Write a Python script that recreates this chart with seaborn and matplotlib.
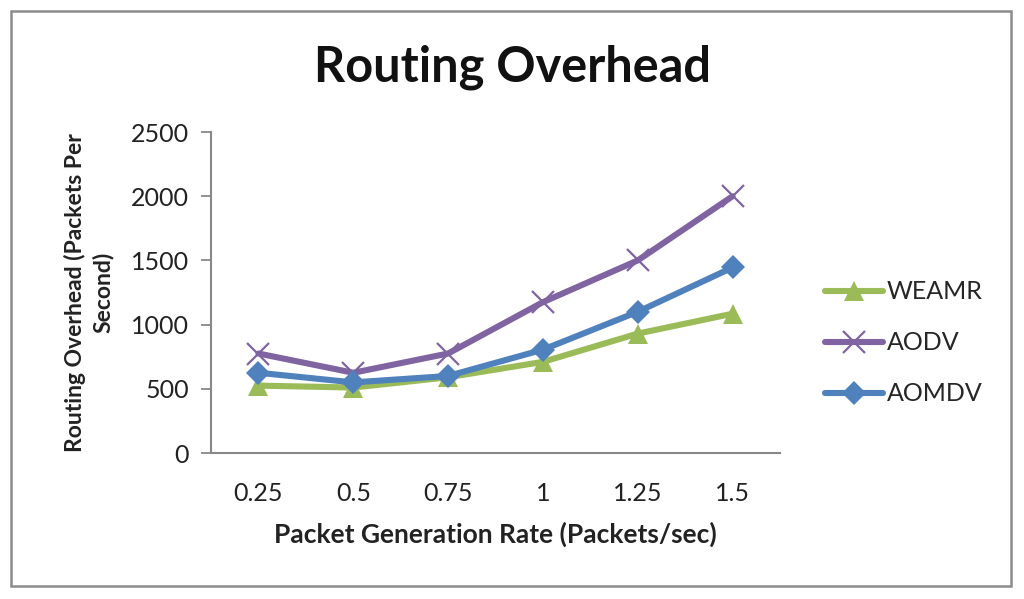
import matplotlib
matplotlib.use("Agg")
import matplotlib.pyplot as plt
import seaborn as sns
import pandas as pd
from matplotlib.patches import Rectangle

rates = ["0.25", "0.5", "0.75", "1", "1.25", "1.5"]
weamr = [525, 510, 590, 710, 930, 1085]
aodv = [775, 625, 775, 1175, 1500, 2000]
aomdv = [625, 550, 600, 805, 1100, 1445]
series_names = ["WEAMR", "AODV", "AOMDV"]
yticks = [0, 500, 1000, 1500, 2000, 2500]

sns.set_theme(style="white")
plt.rcParams["font.family"] = ["Lato", "DejaVu Sans"]

df = pd.DataFrame({"rate": rates * 3,
                   "pos": list(range(len(rates))) * 3,
                   "value": weamr + aodv + aomdv,
                   "series": sum([[s] * len(rates) for s in series_names], [])})

fig = plt.figure(figsize=(10.24, 5.99), dpi=100)
ax = fig.add_axes([0.2061, 0.2437, 0.5556, 0.5359])

colors = {"WEAMR": "#9BBB59", "AODV": "#8064A2", "AOMDV": "#4F81BD"}
markers = {"WEAMR": "^", "AODV": "x", "AOMDV": "D"}
msizes = {"WEAMR": 15, "AODV": 16, "AOMDV": 12}
for name in series_names:
    sub = df[df["series"] == name]
    sns.lineplot(data=sub, x="pos", y="value", ax=ax, color=colors[name],
                 linewidth=4.4, marker=markers[name], markersize=msizes[name],
                 markeredgewidth=1.6 if name == "AODV" else 0,
                 markeredgecolor=colors[name], label=name,
                 solid_capstyle="round")

ax.set_xlim(-0.5, len(rates) - 0.5)
ax.set_ylim(0, 2500)
ax.set_xticks(range(len(rates)))
ax.set_xticklabels(rates)
ax.set_yticks(yticks)
ax.tick_params(axis="both", labelsize=18, colors="#222222")
ax.tick_params(axis="y", which="both", left=True, length=7, width=1.3,
               color="#888888", pad=9)
ax.tick_params(axis="x", bottom=False, pad=15)
for s in ["top", "right"]:
    ax.spines[s].set_visible(False)
for s in ["left", "bottom"]:
    ax.spines[s].set_color("#888888")
    ax.spines[s].set_linewidth(1.5)
ax.grid(False)

ax.set_xlabel("Packet Generation Rate (Packets/sec)", fontsize=19,
              fontweight="bold", color="#222222", labelpad=12)
ax.set_ylabel("Routing Overhead (Packets Per\nSecond)", fontsize=16.5,
              fontweight="bold", color="#222222", labelpad=12,
              linespacing=1.35)
fig.text(0.5, 0.888, "Routing Overhead", ha="center", va="center",
         fontsize=35, fontweight="bold", color="#111111")

leg = ax.legend(loc="center left", bbox_to_anchor=(1.04, 0.343),
                frameon=False, fontsize=18, handlelength=2.3,
                labelspacing=1.12, handletextpad=0.15)

fig.patches.append(Rectangle((11 / 1024, 1 - 586 / 599), 1000 / 1024,
                             575 / 599, transform=fig.transFigure,
                             fill=False, edgecolor="#8c8c8c", linewidth=1.8))

fig.savefig("out.png", dpi=100)
